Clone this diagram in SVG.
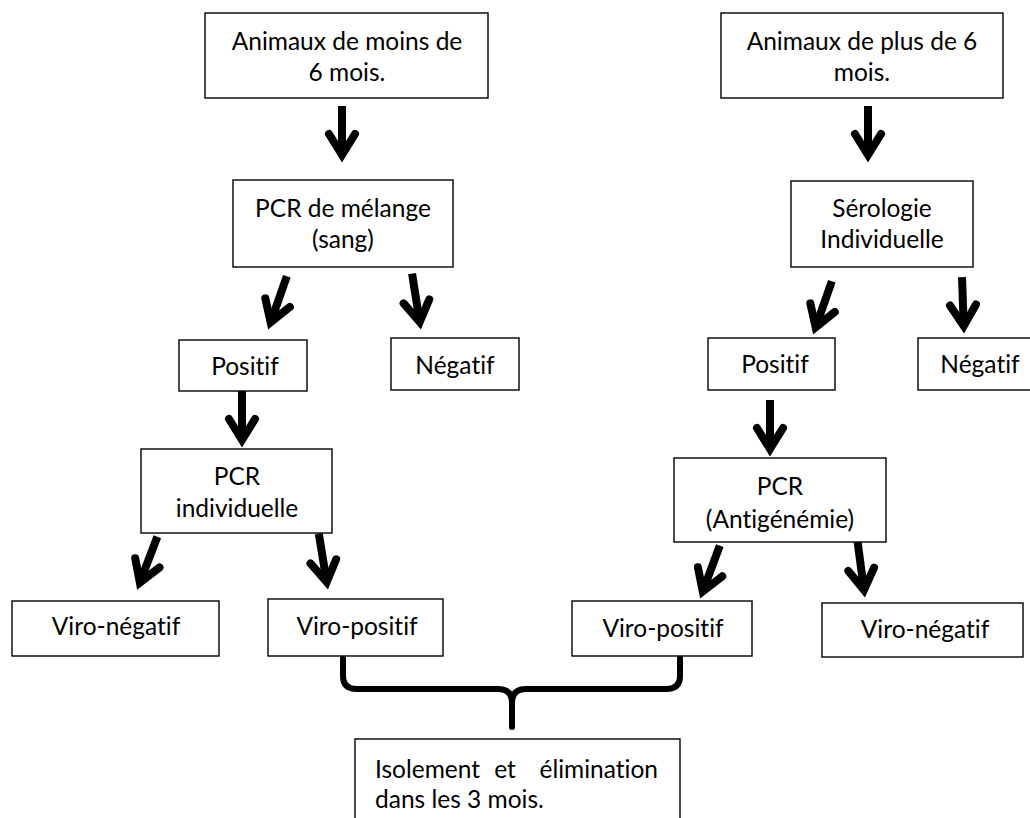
<svg xmlns="http://www.w3.org/2000/svg" xmlns:xlink="http://www.w3.org/1999/xlink" width="1030" height="818" viewBox="0 0 1030 818">
  <style>
    .box { fill: #fff; stroke: #000; stroke-width: 1.4; }
    .lbl { font-family: Lato, "Liberation Sans", sans-serif; font-size: 24.5px; fill: #000; text-anchor: middle; font-variant-ligatures: none; font-feature-settings: "liga" 0; }
    .lft { text-anchor: start; }
    .rgt { text-anchor: end; }
    .brace { fill: none; stroke: #000; stroke-width: 6; stroke-linecap: round; stroke-linejoin: round; }
  </style>
  <defs>
    <!-- thick downward arrow, tip at origin -->
    <g id="arr">
      <line x1="0" y1="-57" x2="0" y2="-10" stroke="#000" stroke-width="8"/>
      <polyline points="-13,-29 0,-8 13,-29" fill="none" stroke="#000" stroke-width="8" stroke-linecap="round" stroke-linejoin="miter" stroke-miterlimit="10"/>
    </g>
  </defs>
  <rect width="1030" height="818" fill="#fff"/>

  <g id="connectors">
    <use xlink:href="#arr" transform="translate(342,163)"/>
    <use xlink:href="#arr" transform="translate(868,163)"/>
    <use xlink:href="#arr" transform="translate(268,330) rotate(19.3)"/>
    <use xlink:href="#arr" transform="translate(421,330) rotate(-9)"/>
    <use xlink:href="#arr" transform="translate(813,335) rotate(19.3)"/>
    <use xlink:href="#arr" transform="translate(964,334) rotate(-2)"/>
    <use xlink:href="#arr" transform="translate(242,448)"/>
    <use xlink:href="#arr" transform="translate(770,457)"/>
    <use xlink:href="#arr" transform="translate(137,590) rotate(20.9)"/>
    <use xlink:href="#arr" transform="translate(328,590) rotate(-9.3)"/>
    <use xlink:href="#arr" transform="translate(700,599) rotate(20.3)"/>
    <use xlink:href="#arr" transform="translate(865,598) rotate(-7.5)"/>
    <!-- curly brace joining both virus-positive results -->
    <path class="brace" d="M343,656 V676 Q343,689 357,689 H498 Q512,689 512,703 V727 M512,703 Q512,689 526,689 H666 Q680,689 680,676 V656"/>
  </g>

  <g id="n-moins6">
    <rect class="box" x="205" y="13" width="283" height="85"/>
    <text class="lbl" x="347" y="50">Animaux de moins de</text>
    <text class="lbl" x="347" y="81">6 mois.</text>
  </g>
  <g id="n-plus6">
    <rect class="box" x="721" y="13" width="282" height="85"/>
    <text class="lbl" x="862" y="50">Animaux de plus de 6</text>
    <text class="lbl" x="862" y="81">mois.</text>
  </g>
  <g id="n-pcr-melange">
    <rect class="box" x="233" y="180" width="220" height="87"/>
    <text class="lbl" x="343" y="217">PCR de mélange</text>
    <text class="lbl" x="343" y="248">(sang)</text>
  </g>
  <g id="n-serologie">
    <rect class="box" x="791" y="181" width="182" height="86"/>
    <text class="lbl" x="882" y="217">Sérologie</text>
    <text class="lbl" x="882" y="248">Individuelle</text>
  </g>
  <g id="n-positif-l">
    <rect class="box" x="179" y="340" width="128" height="51"/>
    <text class="lbl" x="245" y="375">Positif</text>
  </g>
  <g id="n-negatif-l">
    <rect class="box" x="391" y="338" width="128" height="52"/>
    <text class="lbl" x="455" y="374">Négatif</text>
  </g>
  <g id="n-positif-r">
    <rect class="box" x="708" y="338" width="127" height="52"/>
    <text class="lbl" x="775" y="373">Positif</text>
  </g>
  <g id="n-negatif-r">
    <rect class="box" x="918" y="338" width="128" height="52"/>
    <text class="lbl" x="980" y="373">Négatif</text>
  </g>
  <g id="n-pcr-indiv">
    <rect class="box" x="141" y="449" width="191" height="84"/>
    <text class="lbl" x="237" y="485">PCR</text>
    <text class="lbl" x="237" y="517">individuelle</text>
  </g>
  <g id="n-pcr-antig">
    <rect class="box" x="674" y="458" width="212" height="84"/>
    <text class="lbl" x="780" y="495">PCR</text>
    <text class="lbl" x="780" y="528">(Antigénémie)</text>
  </g>
  <g id="n-vironeg-l">
    <rect class="box" x="12" y="601" width="207" height="55"/>
    <text class="lbl" x="116" y="635">Viro-négatif</text>
  </g>
  <g id="n-viropos-l">
    <rect class="box" x="268" y="599" width="175" height="57"/>
    <text class="lbl" x="357" y="635">Viro-positif</text>
  </g>
  <g id="n-viropos-r">
    <rect class="box" x="572" y="601" width="180" height="55"/>
    <text class="lbl" x="663" y="637">Viro-positif</text>
  </g>
  <g id="n-vironeg-r">
    <rect class="box" x="822" y="603" width="201" height="54"/>
    <text class="lbl" x="925" y="638">Viro-négatif</text>
  </g>
  <g id="n-isolement">
    <rect class="box" x="355" y="739" width="325" height="100"/>
    <!-- justified first line: words placed individually -->
    <text class="lbl lft" x="375" y="778">Isolement</text>
    <text class="lbl" x="505" y="778">et</text>
    <text class="lbl rgt" x="658" y="778">élimination</text>
    <text class="lbl lft" x="375" y="808">dans les 3 mois.</text>
  </g>
</svg>
